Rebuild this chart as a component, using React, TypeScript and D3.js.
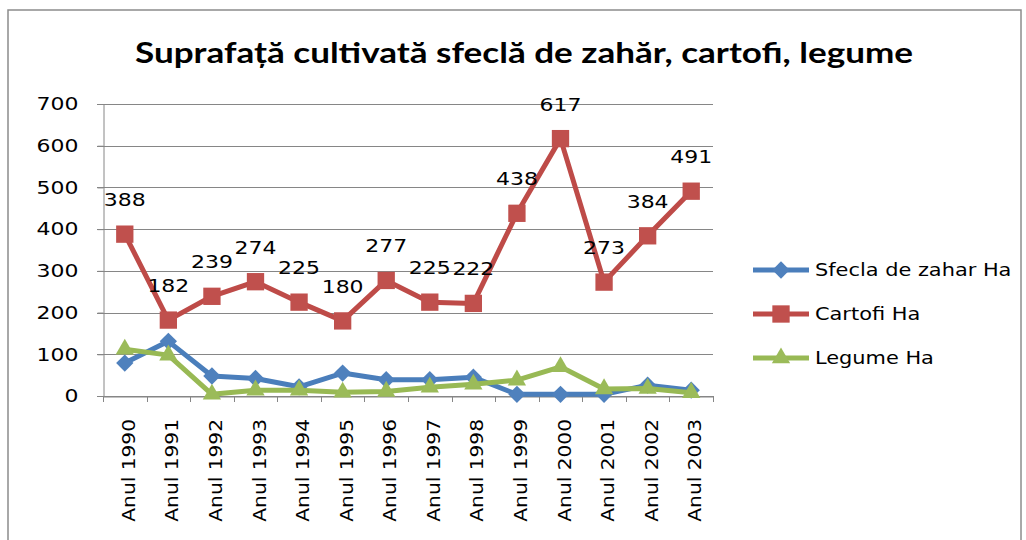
// Suprafata cultivata - line chart with markers (Excel-like)
import React, { useRef, useEffect } from 'react';
import * as d3 from 'd3';

const YEARS = [
  'Anul 1990', 'Anul 1991', 'Anul 1992', 'Anul 1993', 'Anul 1994', 'Anul 1995', 'Anul 1996',
  'Anul 1997', 'Anul 1998', 'Anul 1999', 'Anul 2000', 'Anul 2001', 'Anul 2002', 'Anul 2003',
];
const SFECLA = [79, 131, 48, 42, 22, 55, 39, 39, 45, 4, 4, 4, 26, 14];
const CARTOFI = [388, 182, 239, 274, 225, 180, 277, 225, 222, 438, 617, 273, 384, 491];
const LEGUME = [112, 98, 4, 14, 14, 9, 11, 21, 28, 38, 70, 17, 18, 8];
const Y_TICKS = [0, 100, 200, 300, 400, 500, 600, 700];

// diamond = square turned 45 degrees (Excel style)
const SERIES = [
  { name: 'Sfecla de zahar Ha', values: SFECLA, line: '#4A7EBB', fill: '#4F81BD', marker: d3.symbolSquare, size: 150, rot: 45, labels: false },
  { name: 'Cartofi Ha', values: CARTOFI, line: '#BE4B48', fill: '#C0504D', marker: d3.symbolSquare, size: 300, rot: 0, labels: true },
  { name: 'Legume Ha', values: LEGUME, line: '#98B954', fill: '#9BBB59', marker: d3.symbolTriangle, size: 145, rot: 0, labels: false },
];

const W = 1026;
const H = 540;
const FONT = 'DejaVu Sans, Verdana, sans-serif';

// the reference text is drawn wider than DejaVu, so stretch it
function stretch(sel: d3.Selection<any, any, any, any>, factor: number) {
  sel.each(function () {
    const t = this as SVGTextElement;
    const len = t.getComputedTextLength();
    t.setAttribute('textLength', String(len * factor));
    t.setAttribute('lengthAdjust', 'spacingAndGlyphs');
  });
}

export default function App() {
  const ref = useRef<SVGSVGElement>(null);

  useEffect(() => {
    if (!ref.current) return;
    const svg = d3.select(ref.current);
    svg.selectAll('*').remove();

    const plot = { left: 103, right: 713, top: 104, bottom: 396 };

    const x = d3.scaleBand().domain(YEARS).range([plot.left, plot.right]);
    const y = d3.scaleLinear().domain([0, 700]).range([plot.bottom, plot.top]);
    const cx = (d: string) => (x(d) as number) + x.bandwidth() / 2;

    // chart border
    svg.append('rect')
      .attr('x', 8).attr('y', 10)
      .attr('width', 1013).attr('height', 560)
      .attr('fill', '#fff')
      .attr('stroke', '#8c8c8c')
      .attr('stroke-width', 1.5);

    // Title
    svg.append('text')
      .attr('x', 524)
      .attr('y', 63)
      .attr('text-anchor', 'middle')
      .attr('fill', '#000')
      .attr('font-family', 'Lato, "Open Sans", sans-serif')
      .attr('font-weight', 700)
      .attr('font-size', 28)
      .attr('textLength', 778)
      .attr('lengthAdjust', 'spacingAndGlyphs')
      .text('Suprafață cultivată sfeclă de zahăr, cartofi, legume');

    // gridlines
    svg.append('g')
      .selectAll('line')
      .data(Y_TICKS)
      .join('line')
      .attr('x1', plot.left - 6)
      .attr('x2', plot.right)
      .attr('y1', d => Math.round(y(d)) + 0.5)
      .attr('y2', d => Math.round(y(d)) + 0.5)
      .attr('stroke', '#868686')
      .attr('stroke-width', 1);

    // Y axis
    const yAxis = svg.append('g')
      .attr('transform', `translate(${plot.left + 0.5},0)`)
      .call(d3.axisLeft(y).tickValues(Y_TICKS).tickSize(6).tickPadding(19));
    yAxis.selectAll('.domain, .tick line').attr('stroke', '#868686');
    const yLabels = yAxis.selectAll('text')
      .attr('fill', '#000')
      .style('font-family', FONT)
      .style('font-size', '18px');
    stretch(yLabels, 1.22);

    // X axis
    const xAxis = svg.append('g')
      .attr('transform', `translate(0,${Math.round(y(0)) + 0.5})`)
      .call(d3.axisBottom(x).tickSize(0).tickFormat(() => ''));
    xAxis.select('.domain').attr('stroke', '#868686');
    svg.append('g')
      .selectAll('line')
      .data(d3.range(YEARS.length + 1))
      .join('line')
      .attr('x1', i => Math.round(plot.left + i * x.step()) + 0.5)
      .attr('x2', i => Math.round(plot.left + i * x.step()) + 0.5)
      .attr('y1', Math.round(y(0)))
      .attr('y2', Math.round(y(0)) + 6)
      .attr('stroke', '#868686');

    const xLabels = svg.append('g')
      .selectAll('text')
      .data(YEARS)
      .join('text')
      .attr('transform', d => `translate(${cx(d) + 10},${plot.bottom + 23}) rotate(-90)`)
      .attr('text-anchor', 'end')
      .attr('fill', '#000')
      .style('font-family', FONT)
      .style('font-size', '18px')
      .text(d => d);
    stretch(xLabels, 1.12);

    // Series
    const line = d3.line<number>()
      .x((_, i) => cx(YEARS[i]))
      .y(d => y(d));

    SERIES.forEach(s => {
      const g = svg.append('g');
      g.append('path')
        .datum(s.values)
        .attr('d', line)
        .attr('fill', 'none')
        .attr('stroke', s.line)
        .attr('stroke-width', 5)
        .attr('stroke-linejoin', 'round');

      g.selectAll('path.mk')
        .data(s.values)
        .join('path')
        .attr('class', 'mk')
        .attr('d', d3.symbol().type(s.marker).size(s.size))
        .attr('transform', (d, i) => `translate(${cx(YEARS[i])},${y(d)}) rotate(${s.rot})`)
        .attr('fill', s.fill);

      if (s.labels) {
        const lbl = g.selectAll('text')
          .data(s.values)
          .join('text')
          .attr('x', (_, i) => cx(YEARS[i]))
          .attr('y', d => y(d) - 28)
          .attr('text-anchor', 'middle')
          .attr('fill', '#000')
          .style('font-family', FONT)
          .style('font-size', '18px')
          .text(d => d);
        stretch(lbl, 1.22);
      }
    });

    // Legend
    const legend = svg.append('g')
      .selectAll('g')
      .data(SERIES)
      .join('g')
      .attr('transform', (_, i) => `translate(753,${270 + i * 44})`);
    legend.append('line')
      .attr('x1', 0).attr('x2', 56)
      .attr('stroke', d => d.line)
      .attr('stroke-width', 5);
    legend.append('path')
      .attr('d', d => d3.symbol().type(d.marker).size(d.size)())
      .attr('transform', d => `translate(28,0) rotate(${d.rot})`)
      .attr('fill', d => d.fill);
    const legText = legend.append('text')
      .attr('x', 62)
      .attr('dy', '0.35em')
      .attr('fill', '#000')
      .style('font-family', FONT)
      .style('font-size', '18px')
      .text(d => d.name);
    stretch(legText, 1.16);
  }, []);

  return (
    <svg
      ref={ref}
      width={W}
      height={H}
      style={{ position: 'absolute', left: 0, top: 0, display: 'block', background: '#fff' }}
    />
  );
}
